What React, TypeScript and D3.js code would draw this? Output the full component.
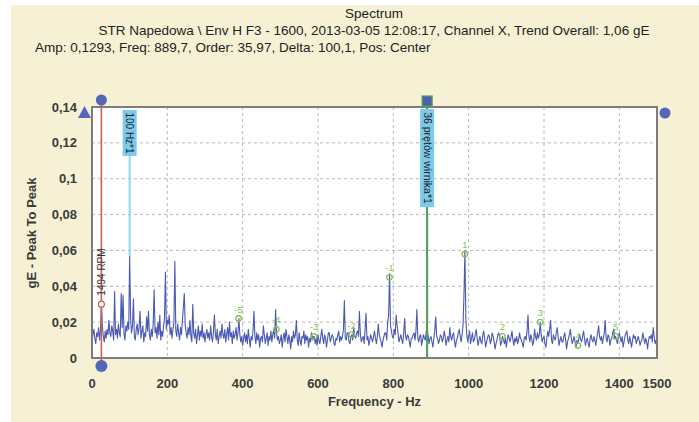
import React, { Component } from 'react'
import * as d3 from 'd3'

// spectrum amplitude (gE peak to peak), one value every FREQ_STEP Hz from 0 Hz (20 values = 50 Hz per row)
const FREQ_STEP = 2.5
const spectrum = [
	0.009, 0.013, 0.016, 0.011, 0.008, 0.014, 0.012, 0.017, 0.010, 0.015, 0.030, 0.018, 0.012, 0.009, 0.015, 0.011, 0.016, 0.013, 0.021, 0.014,
	0.012, 0.018, 0.015, 0.010, 0.037, 0.013, 0.016, 0.011, 0.019, 0.014, 0.012, 0.036, 0.017, 0.035, 0.013, 0.010, 0.018, 0.015, 0.020, 0.016,
	0.057, 0.022, 0.014, 0.018, 0.033, 0.012, 0.010, 0.016, 0.019, 0.013, 0.017, 0.026, 0.011, 0.015, 0.018, 0.009, 0.014, 0.012, 0.023, 0.015,
	0.026, 0.013, 0.010, 0.016, 0.012, 0.019, 0.038, 0.014, 0.017, 0.011, 0.020, 0.013, 0.024, 0.010, 0.015, 0.012, 0.018, 0.022, 0.048, 0.016,
	0.021, 0.019, 0.024, 0.013, 0.017, 0.011, 0.016, 0.020, 0.054, 0.015, 0.012, 0.019, 0.014, 0.010, 0.017, 0.013, 0.021, 0.028, 0.036, 0.018,
	0.014, 0.011, 0.017, 0.013, 0.021, 0.012, 0.009, 0.030, 0.014, 0.011, 0.016, 0.008, 0.013, 0.018, 0.010, 0.015, 0.012, 0.019, 0.011, 0.014,
	0.009, 0.013, 0.016, 0.011, 0.014, 0.010, 0.018, 0.012, 0.009, 0.015, 0.024, 0.013, 0.010, 0.016, 0.008, 0.012, 0.015, 0.011, 0.019, 0.013,
	0.011, 0.016, 0.009, 0.013, 0.017, 0.010, 0.020, 0.012, 0.014, 0.008, 0.015, 0.011, 0.013, 0.017, 0.010, 0.014, 0.022, 0.013, 0.009, 0.012,
	0.007, 0.011, 0.014, 0.009, 0.013, 0.008, 0.016, 0.011, 0.006, 0.012, 0.010, 0.015, 0.026, 0.012, 0.008, 0.014, 0.010, 0.013, 0.006, 0.011,
	0.012, 0.009, 0.018, 0.013, 0.008, 0.011, 0.014, 0.007, 0.012, 0.010, 0.015, 0.009, 0.013, 0.016, 0.011, 0.027, 0.014, 0.010, 0.012, 0.008,
	0.010, 0.013, 0.006, 0.011, 0.014, 0.009, 0.016, 0.012, 0.008, 0.013, 0.010, 0.005, 0.012, 0.009, 0.015, 0.011, 0.013, 0.021, 0.010, 0.007,
	0.014, 0.010, 0.007, 0.012, 0.011, 0.015, 0.008, 0.013, 0.010, 0.012, 0.006, 0.011, 0.009, 0.014, 0.010, 0.012, 0.012, 0.008, 0.011, 0.007,
	0.013, 0.010, 0.008, 0.012, 0.016, 0.011, 0.008, 0.013, 0.011, 0.006, 0.010, 0.014, 0.014, 0.009, 0.011, 0.013, 0.012, 0.008, 0.007, 0.011,
	0.010, 0.013, 0.015, 0.009, 0.012, 0.010, 0.012, 0.016, 0.032, 0.011, 0.010, 0.014, 0.014, 0.009, 0.008, 0.012, 0.013, 0.010, 0.017, 0.012,
	0.011, 0.014, 0.015, 0.012, 0.026, 0.013, 0.009, 0.011, 0.012, 0.008, 0.016, 0.025, 0.010, 0.012, 0.007, 0.010, 0.013, 0.011, 0.009, 0.012,
	0.015, 0.011, 0.008, 0.012, 0.019, 0.013, 0.011, 0.009, 0.006, 0.010, 0.012, 0.014, 0.014, 0.010, 0.020, 0.024, 0.047, 0.018, 0.015, 0.012,
	0.011, 0.016, 0.013, 0.024, 0.018, 0.014, 0.009, 0.011, 0.013, 0.010, 0.008, 0.014, 0.022, 0.012, 0.010, 0.013, 0.012, 0.009, 0.006, 0.011,
	0.011, 0.013, 0.014, 0.010, 0.015, 0.027, 0.011, 0.009, 0.012, 0.013, 0.007, 0.010, 0.013, 0.011, 0.010, 0.015, 0.016, 0.012, 0.008, 0.011,
	0.012, 0.009, 0.006, 0.011, 0.015, 0.023, 0.012, 0.011, 0.008, 0.010, 0.013, 0.012, 0.009, 0.011, 0.015, 0.012, 0.007, 0.010, 0.012, 0.009,
	0.017, 0.012, 0.010, 0.013, 0.014, 0.009, 0.006, 0.010, 0.011, 0.014, 0.016, 0.012, 0.009, 0.013, 0.018, 0.035, 0.060, 0.022, 0.013, 0.009,
	0.012, 0.015, 0.008, 0.011, 0.014, 0.009, 0.010, 0.013, 0.016, 0.011, 0.007, 0.010, 0.012, 0.009, 0.008, 0.013, 0.015, 0.011, 0.006, 0.009,
	0.011, 0.013, 0.012, 0.008, 0.010, 0.014, 0.012, 0.009, 0.005, 0.008, 0.010, 0.013, 0.014, 0.011, 0.007, 0.009, 0.012, 0.010, 0.008, 0.011,
	0.006, 0.010, 0.013, 0.011, 0.009, 0.012, 0.015, 0.010, 0.007, 0.011, 0.009, 0.012, 0.008, 0.010, 0.014, 0.011, 0.010, 0.008, 0.006, 0.011,
	0.012, 0.010, 0.015, 0.024, 0.012, 0.009, 0.013, 0.011, 0.007, 0.009, 0.016, 0.012, 0.010, 0.014, 0.011, 0.013, 0.020, 0.013, 0.009, 0.011,
	0.012, 0.008, 0.006, 0.011, 0.015, 0.012, 0.016, 0.021, 0.010, 0.008, 0.013, 0.011, 0.010, 0.014, 0.017, 0.012, 0.007, 0.010, 0.012, 0.009,
	0.009, 0.012, 0.014, 0.010, 0.005, 0.009, 0.011, 0.013, 0.016, 0.011, 0.008, 0.010, 0.012, 0.009, 0.006, 0.010, 0.008, 0.011, 0.013, 0.010,
	0.009, 0.012, 0.015, 0.011, 0.007, 0.010, 0.011, 0.008, 0.006, 0.011, 0.013, 0.010, 0.009, 0.012, 0.010, 0.007, 0.011, 0.014, 0.018, 0.012,
	0.010, 0.012, 0.008, 0.011, 0.014, 0.021, 0.011, 0.009, 0.013, 0.012, 0.007, 0.010, 0.011, 0.014, 0.016, 0.011, 0.012, 0.010, 0.008, 0.012,
	0.014, 0.011, 0.009, 0.012, 0.006, 0.009, 0.012, 0.014, 0.015, 0.010, 0.008, 0.012, 0.009, 0.006, 0.010, 0.013, 0.011, 0.012, 0.008, 0.010,
	0.012, 0.010, 0.007, 0.009, 0.010, 0.014, 0.011, 0.008, 0.011, 0.009, 0.005, 0.010, 0.012, 0.011, 0.013, 0.009, 0.017, 0.012, 0.008, 0.010,
	0.006
]

const xTicks = [0, 200, 400, 600, 800, 1000, 1200, 1400, 1500]
const yTicks = [0, 0.02, 0.04, 0.06, 0.08, 0.1, 0.12, 0.14]

const titleLines = [
	'Spectrum',
	'STR Napedowa \\ Env H F3 - 1600, 2013-03-05 12:08:17, Channel X, Trend Overall: 1,06 gE'
]
const cursorInfo = 'Amp: 0,1293, Freq: 889,7, Order: 35,97, Delta: 100,1, Pos: Center'

// cursors
const runSpeedHz = 24.9
const runSpeedAmp = 0.03
const runSpeedLabel = '1494 RPM'
const harmonicHz = 100
const harmonicLabel = '100 Hz*1'
const cursorHz = 889.7
const cursorLabel = '36 prętów wirnika*1'
const sidebandDelta = 100.1
const sidebandOrders = [-5, -4, -3, -2, -1, 1, 2, 3, 4, 5]
const sidebandAmps = [0.022, 0.016, 0.012, 0.013, 0.045, 0.058, 0.012, 0.020, 0.007, 0.012]

const font = "'Liberation Sans', Arial, sans-serif"
const fmt = v => (v === 0 ? '0' : String(+v.toFixed(2)).replace('.', ','))

export default class App extends Component {
	constructor (props) {
		super(props)

		this.margin = {
			top: 107,
			left: 92,
			right: 42,
			bottom: 64
		}
		this.W = 699
		this.H = 422
		this.width = this.W - this.margin.left - this.margin.right
		this.height = this.H - this.margin.top - this.margin.bottom
	}

	componentDidMount () {
		d3.select(this.container).selectAll('*').remove()

		const m = this.margin
		const svg = d3.select(this.container)
			.append('svg')
			.attr('width', this.W)
			.attr('height', this.H)
			.style('position', 'absolute')
			.style('left', 0)
			.style('top', 0)
			.style('font-family', font)

		svg.append('rect')
			.attr('width', this.W).attr('height', this.H)
			.attr('fill', '#ffffff')
		svg.append('rect')
			.attr('x', 11).attr('y', 5)
			.attr('width', this.W - 11).attr('height', this.H - 5)
			.attr('fill', '#f6f1d4')

		const x = d3.scaleLinear().domain([0, 1500]).range([m.left, m.left + this.width])
		const y = d3.scaleLinear().domain([0, 0.14]).range([m.top + this.height, m.top])

		// titles
		svg.selectAll('text.title')
			.data(titleLines)
			.enter()
			.append('text')
			.attr('x', 374)
			.attr('y', (d, i) => 18 + i * 17)
			.attr('text-anchor', 'middle')
			.attr('font-size', 13.5)
			.attr('fill', '#222')
			.text(d => d)
		svg.append('text')
			.attr('x', 35).attr('y', 52)
			.attr('font-size', 13.5)
			.attr('fill', '#222')
			.text(cursorInfo)

		// plot area
		svg.append('rect')
			.attr('x', m.left).attr('y', m.top)
			.attr('width', this.width).attr('height', this.height)
			.attr('fill', '#ffffff')

		const grid = svg.append('g')
			.attr('stroke', '#b8b8b8')
			.attr('stroke-dasharray', '3,3')
		grid.selectAll('line.gx')
			.data(xTicks.filter(d => d > 0 && d < 1500))
			.enter()
			.append('line')
			.attr('x1', d => x(d)).attr('x2', d => x(d))
			.attr('y1', m.top).attr('y2', m.top + this.height)
		grid.selectAll('line.gy')
			.data(yTicks.filter(d => d > 0 && d < 0.14))
			.enter()
			.append('line')
			.attr('x1', m.left).attr('x2', m.left + this.width)
			.attr('y1', d => y(d)).attr('y2', d => y(d))

		// spectrum line
		const line = d3.line()
			.x((d, i) => x(i * FREQ_STEP))
			.y(d => y(d))
		svg.append('path')
			.datum(spectrum)
			.attr('d', line)
			.attr('fill', 'none')
			.attr('stroke', '#4a59b3')
			.attr('stroke-width', 1.1)
			.attr('stroke-linejoin', 'round')

		// sideband markers
		const sb = svg.selectAll('g.sb')
			.data(sidebandOrders)
			.enter()
			.append('g')
			.attr('transform', (d, i) => `translate(${x(cursorHz + d * sidebandDelta)}, ${y(sidebandAmps[i])})`)
		sb.append('circle')
			.attr('r', 2.8)
			.attr('fill', 'none')
			.attr('stroke', '#7fbf4d')
			.attr('stroke-width', 1.3)
		sb.append('text')
			.attr('y', -6)
			.attr('text-anchor', 'middle')
			.attr('font-size', 9)
			.attr('fill', '#7fbf4d')
			.text(d => d)

		// frame
		svg.append('rect')
			.attr('x', m.left).attr('y', m.top)
			.attr('width', this.width).attr('height', this.height)
			.attr('fill', 'none')
			.attr('stroke', '#7c7c7c')
			.attr('stroke-width', 2)

		// running speed cursor
		const rx = x(runSpeedHz)
		svg.append('line')
			.attr('x1', rx).attr('x2', rx)
			.attr('y1', 100).attr('y2', 366)
			.attr('stroke', '#c8614f')
			.attr('stroke-width', 1.6)
		svg.append('circle')
			.attr('cx', rx).attr('cy', y(runSpeedAmp))
			.attr('r', 3)
			.attr('fill', '#fff')
			.attr('stroke', '#c8614f')
			.attr('stroke-width', 1.2)
		svg.append('text')
			.attr('transform', `translate(${rx + 3.5}, 272) rotate(-90)`)
			.attr('text-anchor', 'middle')
			.attr('font-size', 10)
			.attr('fill', '#333')
			.text(runSpeedLabel)
		svg.append('circle').attr('cx', rx).attr('cy', 100).attr('r', 5.5).attr('fill', '#5565bb')
		svg.append('circle').attr('cx', rx).attr('cy', 366).attr('r', 6).attr('fill', '#5565bb')

		// harmonic cursor (100 Hz)
		const hx = x(harmonicHz)
		svg.append('line')
			.attr('x1', hx).attr('x2', hx)
			.attr('y1', 150).attr('y2', y(spectrum[harmonicHz / FREQ_STEP]))
			.attr('stroke', '#93d3ef')
			.attr('stroke-width', 2)
		svg.append('rect')
			.attr('x', hx - 7).attr('y', 110)
			.attr('width', 14).attr('height', 46)
			.attr('fill', '#7ccbec')
		svg.append('text')
			.attr('transform', `translate(${hx - 3.5}, 133) rotate(90)`)
			.attr('text-anchor', 'middle')
			.attr('font-size', 10)
			.attr('fill', '#222')
			.text(harmonicLabel)

		// band cursor
		const cx = x(cursorHz)
		svg.append('line')
			.attr('x1', cx).attr('x2', cx)
			.attr('y1', 100).attr('y2', m.top + this.height)
			.attr('stroke', '#4f9a5a')
			.attr('stroke-width', 2)
		svg.append('rect')
			.attr('x', cx - 7).attr('y', 109)
			.attr('width', 14).attr('height', 98)
			.attr('fill', '#7ccbec')
		svg.append('text')
			.attr('transform', `translate(${cx - 3.5}, 158) rotate(90)`)
			.attr('text-anchor', 'middle')
			.attr('font-size', 10.5)
			.attr('fill', '#222')
			.text(cursorLabel)
		svg.append('rect')
			.attr('x', cx - 5).attr('y', 96)
			.attr('width', 10).attr('height', 10)
			.attr('fill', '#4e5fb0')
			.attr('stroke', '#5a9e5a')
			.attr('stroke-width', 1.2)

		// corner markers
		svg.append('path')
			.attr('d', `M${m.left - 14},118 L${m.left - 7.5},106 L${m.left - 1},118 Z`)
			.attr('fill', '#5565bb')
		svg.append('circle')
			.attr('cx', m.left + this.width + 8).attr('cy', 113)
			.attr('r', 5.5)
			.attr('fill', '#5565bb')

		// tick labels
		svg.selectAll('text.xt')
			.data(xTicks)
			.enter()
			.append('text')
			.attr('x', d => x(d))
			.attr('y', 388)
			.attr('text-anchor', 'middle')
			.attr('font-size', 13)
			.attr('font-weight', 'bold')
			.attr('fill', '#3a3a3a')
			.text(d => d)
		svg.selectAll('text.yt')
			.data(yTicks)
			.enter()
			.append('text')
			.attr('x', 77)
			.attr('y', d => y(d) + 4.5)
			.attr('text-anchor', 'end')
			.attr('font-size', 13)
			.attr('font-weight', 'bold')
			.attr('fill', '#3a3a3a')
			.text(fmt)

		// axis titles
		svg.append('text')
			.attr('x', m.left + this.width / 2)
			.attr('y', 406)
			.attr('text-anchor', 'middle')
			.attr('font-size', 13)
			.attr('font-weight', 'bold')
			.attr('fill', '#3a3a3a')
			.text('Frequency - Hz')
		svg.append('text')
			.attr('transform', `translate(36, 233) rotate(-90)`)
			.attr('text-anchor', 'middle')
			.attr('font-size', 13)
			.attr('font-weight', 'bold')
			.attr('fill', '#3a3a3a')
			.text('gE - Peak To Peak')
	}

	render () {
		return (
			<div ref={ container => this.container = container }></div>
		)
	}
}
